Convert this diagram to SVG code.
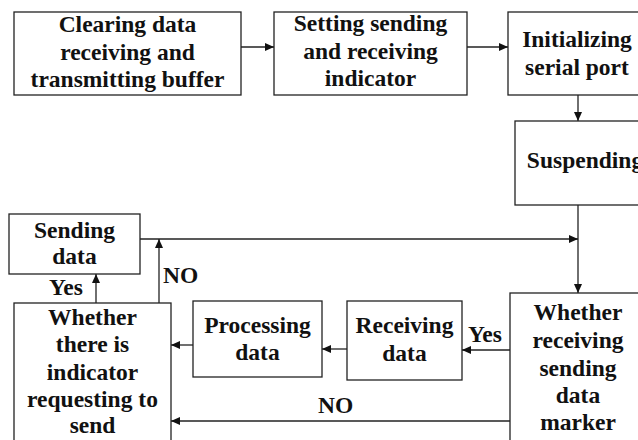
<svg xmlns="http://www.w3.org/2000/svg" width="638" height="440" viewBox="0 0 638 440" font-family="'Liberation Serif', 'Times New Roman', serif">
<style>
.box{fill:#fff;stroke:#222;stroke-width:1.3}
.ln{fill:none;stroke:#222;stroke-width:1.3}
text{font-family:'Liberation Serif','Times New Roman',serif;font-weight:700;font-size:23.5px;fill:#111;text-anchor:middle}
.lab{text-anchor:start}
</style>
<defs>
<marker id="ah" markerWidth="10" markerHeight="8" refX="9" refY="4" orient="auto" markerUnits="userSpaceOnUse">
<path d="M0,0 L9,4 L0,8 Z" fill="#111"/>
</marker>
</defs>
<rect width="638" height="440" fill="#fff"/>
<g id="connectors">
<line class="ln" x1="241" y1="47" x2="274" y2="47" marker-end="url(#ah)"/>
<line class="ln" x1="467" y1="47" x2="508" y2="47" marker-end="url(#ah)"/>
<line class="ln" x1="578" y1="95" x2="578" y2="121" marker-end="url(#ah)"/>
<line class="ln" x1="578" y1="205" x2="578" y2="293" marker-end="url(#ah)"/>
<line class="ln" x1="140" y1="239" x2="578" y2="239" marker-end="url(#ah)"/>
<line class="ln" x1="159" y1="303" x2="159" y2="239" marker-end="url(#ah)"/>
<line class="ln" x1="96" y1="303" x2="96" y2="274" marker-end="url(#ah)"/>
<line class="ln" x1="510" y1="350" x2="462" y2="350" marker-end="url(#ah)"/>
<line class="ln" x1="347" y1="349" x2="322" y2="349" marker-end="url(#ah)"/>
<line class="ln" x1="193" y1="345" x2="171" y2="345" marker-end="url(#ah)"/>
<line class="ln" x1="510" y1="421" x2="171" y2="421" marker-end="url(#ah)"/>
<text class="lab" x="163" y="283">NO</text>
<text class="lab" x="49" y="295">Yes</text>
<text class="lab" x="468" y="342">Yes</text>
<text class="lab" x="318" y="413">NO</text>
</g>
<g id="n1">
<rect class="box" x="14" y="12" width="227" height="83"/>
<text x="127.5" y="32">Clearing data</text>
<text x="127.5" y="59.5">receiving and</text>
<text x="127.5" y="87">transmitting buffer</text>
</g>
<g id="n2">
<rect class="box" x="274" y="12" width="193" height="83"/>
<text x="370.5" y="31">Setting sending</text>
<text x="370.5" y="58.5">and receiving</text>
<text x="370.5" y="86">indicator</text>
</g>
<g id="n3">
<rect class="box" x="508" y="12" width="140" height="83"/>
<text x="577" y="47">Initializing</text>
<text x="577" y="75">serial port</text>
</g>
<g id="n4">
<rect class="box" x="515" y="121" width="140" height="84"/>
<text x="585" y="168">Suspending</text>
</g>
<g id="n5">
<rect class="box" x="510" y="293" width="140" height="160"/>
<text x="578" y="320">Whether</text>
<text x="578" y="348">receiving</text>
<text x="578" y="376">sending</text>
<text x="578" y="403">data</text>
<text x="578" y="430">marker</text>
</g>
<g id="n6">
<rect class="box" x="347" y="301" width="115" height="79"/>
<text x="404.5" y="333">Receiving</text>
<text x="404.5" y="361">data</text>
</g>
<g id="n7">
<rect class="box" x="193" y="301" width="129" height="76"/>
<text x="257.5" y="333">Processing</text>
<text x="257.5" y="360">data</text>
</g>
<g id="n8">
<rect class="box" x="14" y="303" width="157" height="150"/>
<text x="92.5" y="325">Whether</text>
<text x="92.5" y="352">there is</text>
<text x="92.5" y="380">indicator</text>
<text x="92.5" y="407">requesting to</text>
<text x="92.5" y="433">send</text>
</g>
<g id="n9">
<rect class="box" x="9" y="214" width="131" height="60"/>
<text x="74.5" y="238">Sending</text>
<text x="74.5" y="264">data</text>
</g>
</svg>
